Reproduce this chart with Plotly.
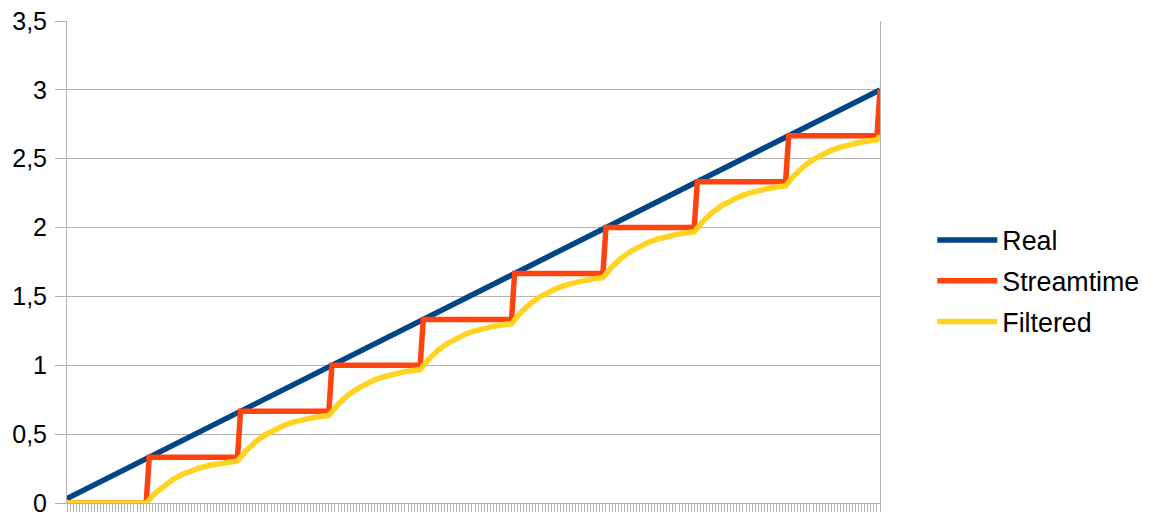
import plotly.graph_objects as go

# sample index axis (categories without labels)
x_start, x_end = 3, 270

# Real: straight line
real_x = [3, 270]
real_y = [0.033, 3.0]

# Streamtime: staircase
stream_x = [3, 29, 30, 59, 60, 89, 90, 119, 120, 149, 150, 179, 180, 209, 210, 239, 240, 269, 270]
stream_y = [0, 0, 0.333, 0.333, 0.667, 0.667, 1.0, 1.0, 1.333, 1.333, 1.667, 1.667,
            2.0, 2.0, 2.333, 2.333, 2.667, 2.667, 3.0]

# Filtered: smoothed staircase (read every 3 samples)
filt_x = [3, 29, 32, 35, 38, 41, 44, 47, 50, 53, 56, 59,
          62, 65, 68, 71, 74, 77, 80, 83, 86, 89,
          92, 95, 98, 101, 104, 107, 110, 113, 116, 119,
          122, 125, 128, 131, 134, 137, 140, 143, 146, 149,
          152, 155, 158, 161, 164, 167, 170, 173, 176, 179,
          182, 185, 188, 191, 194, 197, 200, 203, 206, 209,
          212, 215, 218, 221, 224, 227, 230, 233, 236, 239,
          242, 245, 248, 251, 254, 257, 260, 263, 266, 269, 270]
filt_y = [0, 0, 0.073, 0.130, 0.174, 0.209, 0.236, 0.258, 0.274, 0.287, 0.297, 0.305,
          0.384, 0.446, 0.494, 0.532, 0.561, 0.585, 0.603, 0.616, 0.628, 0.636,
          0.716, 0.778, 0.826, 0.865, 0.894, 0.917, 0.936, 0.949, 0.961, 0.969,
          1.049, 1.111, 1.159, 1.198, 1.227, 1.250, 1.269, 1.282, 1.294, 1.302,
          1.383, 1.445, 1.493, 1.532, 1.561, 1.584, 1.603, 1.616, 1.628, 1.636,
          1.716, 1.778, 1.826, 1.865, 1.894, 1.917, 1.936, 1.949, 1.961, 1.969,
          2.049, 2.111, 2.159, 2.198, 2.227, 2.250, 2.269, 2.282, 2.294, 2.302,
          2.383, 2.445, 2.493, 2.532, 2.561, 2.584, 2.603, 2.616, 2.628, 2.636, 2.665]

y_ticks = [0, 0.5, 1, 1.5, 2, 2.5, 3, 3.5]
y_labels = ["0", "0,5", "1", "1,5", "2", "2,5", "3", "3,5"]

names = ["Real", "Streamtime", "Filtered"]
colors = ["#004586", "#ff420e", "#ffd320"]

GRID = "#b3b3b3"
FONT = "Liberation Sans, Arial, sans-serif"

fig = go.Figure()
for name, xs, ys, col in zip(names, [real_x, stream_x, filt_x], [real_y, stream_y, filt_y], colors):
    fig.add_trace(go.Scatter(x=xs, y=ys, mode="lines", name=name, legendgroup=name,
                             line=dict(color=col, width=5.5), cliponaxis=False))

# page body has an 8px default margin, so the figure is sized/placed to compensate
fig.update_layout(
    width=1146, height=505,
    margin=dict(l=59, r=274, t=13, b=10, autoexpand=False),
    paper_bgcolor="white", plot_bgcolor="white",
    font=dict(family=FONT, size=25, color="#000000"),
    showlegend=True,
    legend=dict(x=1.0643, y=0.4606, xanchor="left", yanchor="middle",
                font=dict(size=26.8), itemwidth=60, traceorder="grouped",
                tracegroupgap=3, bgcolor="rgba(0,0,0,0)"),
    xaxis=dict(range=[x_start, x_end], showgrid=False, zeroline=False,
               showline=True, linecolor=GRID, linewidth=1, automargin=False,
               ticks="outside", ticklen=8, tickwidth=1, tickcolor=GRID,
               tick0=3, dtick=1, showticklabels=False, fixedrange=True),
    yaxis=dict(range=[0, 3.5], tickvals=y_ticks, ticktext=y_labels,
               showgrid=True, gridcolor=GRID, gridwidth=1, zeroline=False,
               showline=True, mirror=True, linecolor=GRID, linewidth=1,
               ticks="outside", ticklen=11, tickcolor=GRID, automargin=False,
               ticklabelstandoff=3, ticklabeloverflow="allow",
               tickfont=dict(size=25), fixedrange=True),
)

fig.write_html("out.html")
